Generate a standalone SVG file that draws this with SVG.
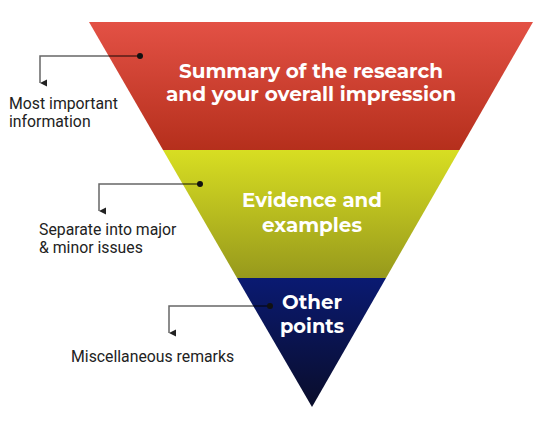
<svg xmlns="http://www.w3.org/2000/svg" width="545" height="427" viewBox="0 0 545 427">
<defs>
<linearGradient id="gRed" x1="0" y1="0" x2="0" y2="1"><stop offset="0" stop-color="#e35145"/><stop offset="1" stop-color="#b52f1c"/></linearGradient>
<linearGradient id="gYel" x1="0" y1="0" x2="0" y2="1"><stop offset="0" stop-color="#d8de22"/><stop offset="1" stop-color="#97991c"/></linearGradient>
<linearGradient id="gBlu" x1="0" y1="0" x2="0" y2="1"><stop offset="0" stop-color="#0a1a72"/><stop offset="1" stop-color="#0a0d2a"/></linearGradient>
<marker id="arr" viewBox="0 0 10 10" refX="5" refY="10" markerWidth="9" markerHeight="7" markerUnits="userSpaceOnUse" orient="auto-start-reverse">
<path d="M0,0 L10,0 L5,10 Z" fill="#222"/>
</marker>
</defs>
<style>
.t{font-family:"Montserrat","Open Sans","DejaVu Sans",sans-serif;font-weight:700;font-size:19px;fill:#fff;text-anchor:middle}
.l{font-family:Roboto,"Liberation Sans",sans-serif;font-size:15.8px;fill:#222}
.c{fill:none;stroke:#000;stroke-opacity:0.6;stroke-width:1.5}
.d{fill:#111}
</style>
<g id="layer-top">
<polygon points="89,22 533,22 459.5,150 163,150" fill="url(#gRed)"/>
<text class="t" x="311" y="78" textLength="264" lengthAdjust="spacingAndGlyphs">Summary of the research</text>
<text class="t" x="311" y="101" textLength="290" lengthAdjust="spacingAndGlyphs">and your overall impression</text>
</g>
<g id="layer-middle">
<polygon points="163,150 459.5,150 386,278 237,278" fill="url(#gYel)"/>
<text class="t" x="312" y="207" textLength="140" lengthAdjust="spacingAndGlyphs">Evidence and</text>
<text class="t" x="312" y="232" textLength="100" lengthAdjust="spacingAndGlyphs">examples</text>
</g>
<g id="layer-bottom">
<polygon points="237,278 386,278 312,407" fill="url(#gBlu)"/>
<text class="t" x="312" y="309" textLength="60" lengthAdjust="spacingAndGlyphs">Other</text>
<text class="t" x="312" y="333" textLength="64" lengthAdjust="spacingAndGlyphs">points</text>
</g>
<g id="connectors">
<polyline class="c" points="140,56 40,56 40,83" marker-end="url(#arr)"/>
<circle class="d" cx="140" cy="56" r="3"/>
<polyline class="c" points="200,184 99,184 99,211" marker-end="url(#arr)"/>
<circle class="d" cx="200" cy="184" r="3"/>
<polyline class="c" points="270,306 169,306 169,333" marker-end="url(#arr)"/>
<circle class="d" cx="270" cy="306" r="3"/>
</g>
<g id="label-1">
<text class="l" x="9" y="109">Most important</text>
<text class="l" x="9" y="127">information</text>
</g>
<g id="label-2">
<text class="l" x="39" y="235">Separate into major</text>
<text class="l" x="39" y="253">&amp; minor issues</text>
</g>
<g id="label-3">
<text class="l" x="71" y="362">Miscellaneous remarks</text>
</g>
</svg>
